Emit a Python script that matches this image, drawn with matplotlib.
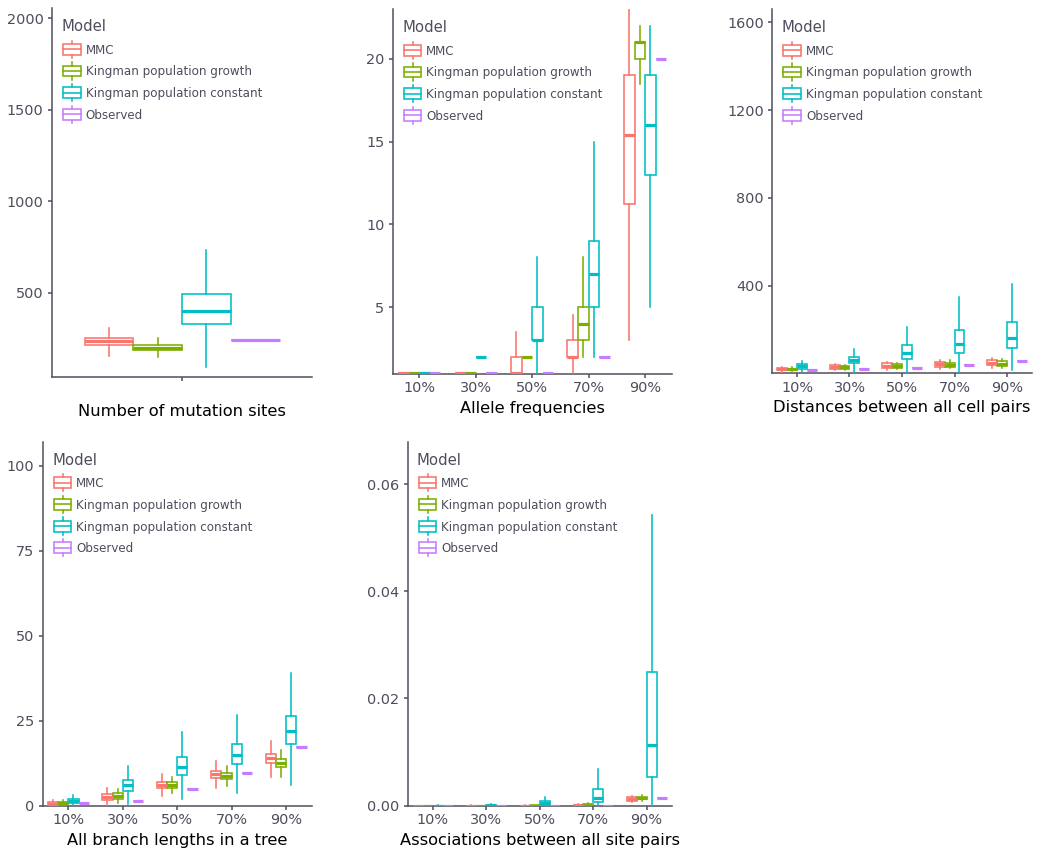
import matplotlib
matplotlib.use("Agg")
import matplotlib.pyplot as plt
from matplotlib.lines import Line2D
from matplotlib.patches import Rectangle

# ---------------------------------------------------------------------------
# Summary statistics per model: (lower whisker, Q1, median, Q3, upper whisker)
# ---------------------------------------------------------------------------
MODELS = ["MMC", "Kingman population growth", "Kingman population constant", "Observed"]
COLORS = ["#F8766D", "#7CAE00", "#00BFC4", "#C77CFF"]
QUANTILES = ["10%", "30%", "50%", "70%", "90%"]

# Number of mutation sites (single category)
SITES_MMC = [(155, 214, 235, 253, 309)]
SITES_GROWTH = [(148, 186, 200, 215, 250)]
SITES_CONST = [(93, 331, 402, 493, 734)]
SITES_OBS = [244]

# Allele frequencies
ALLELE_MMC = [(1, 1, 1, 1, 1), (1, 1, 1, 1, 1), (1, 1, 1, 2, 3.5),
              (1, 2, 2, 3, 4.5), (3, 11.2, 15.4, 19, 24)]
ALLELE_GROWTH = [(1, 1, 1, 1, 1), (1, 1, 1, 1, 1), (2, 2, 2, 2, 2),
                 (2, 3, 4, 5, 8), (18.5, 20, 21, 21, 22)]
ALLELE_CONST = [(1, 1, 1, 1, 1), (2, 2, 2, 2, 2), (1, 3, 3, 5, 8),
                (2, 5, 7, 9, 15), (5, 13, 16, 19, 22)]
ALLELE_OBS = [1, 1, 1, 2, 20]

# Distances between all cell pairs
DIST_MMC = [(8, 14, 19, 25, 30), (15, 22, 30, 37, 44), (16, 25, 36, 46, 52),
            (20, 31, 42, 54, 63), (26, 37, 47, 62, 72)]
DIST_GROWTH = [(10, 15, 18, 22, 27), (16, 21, 27, 33, 40), (20, 25, 34, 41, 48),
               (26, 31, 40, 49, 59), (26, 35, 45, 55, 66)]
DIST_CONST = [(8, 22, 33, 42, 57), (8, 46, 60, 74, 110), (8, 67, 95, 128, 213),
              (8, 93, 136, 197, 350), (14, 115, 163, 233, 406)]
DIST_OBS = [17, 22, 26, 37, 57]

# All branch lengths in a tree
BRANCH_MMC = [(0.1, 0.2, 0.6, 1.1, 1.6), (0, 1.8, 2.6, 3.4, 5.3), (2.9, 5.1, 6.1, 6.9, 9.3),
              (5.3, 8.2, 9.3, 10.2, 13.1), (8.5, 12.5, 13.9, 15.1, 19.1)]
BRANCH_GROWTH = [(0.1, 0.3, 0.7, 1.2, 1.7), (0.9, 2.1, 2.9, 3.6, 4.8), (3.6, 5.1, 6.1, 6.9, 8.3),
                 (5.9, 7.8, 8.8, 9.5, 11.6), (8.5, 11.3, 12.5, 13.6, 16.4)]
BRANCH_CONST = [(0.2, 0.8, 1.4, 2.0, 3.1), (0.5, 4.4, 6.0, 7.5, 11.8), (1.9, 9.1, 11.3, 14.2, 21.6),
                (3.7, 12.3, 14.9, 18.1, 26.7), (6.1, 18.1, 22.0, 26.5, 38.9)]
BRANCH_OBS = [0.8, 1.4, 4.8, 9.7, 17.2]

# Associations between all site pairs
ASSOC_MMC = [(0, 0, 0, 0, 0), (0, 0, 0, 0, 0.00005), (0, 0, 0, 0.00002, 0.0001),
             (0, 0.00005, 0.0001, 0.00015, 0.0003), (0.0007, 0.00095, 0.00125, 0.00155, 0.0019)]
ASSOC_GROWTH = [(0, 0, 0, 0, 0), (0, 0, 0, 0, 0), (0, 0, 0.00002, 0.00005, 0.0001),
                (0, 0.0001, 0.0002, 0.0003, 0.0005), (0.0009, 0.0012, 0.00145, 0.0017, 0.0020)]
ASSOC_CONST = [(0, 0, 0, 0.00003, 0.0001), (0, 0.00002, 0.00008, 0.0002, 0.0004),
               (0, 0.00013, 0.00045, 0.00088, 0.00157), (0, 0.00075, 0.0014, 0.0032, 0.0068),
               (0, 0.0054, 0.0114, 0.025, 0.0542)]
ASSOC_OBS = [0, 0, 0, 0, 0.00138]

# ---------------------------------------------------------------------------
# Styling
# ---------------------------------------------------------------------------
W, H = 1038, 852
LW = 1.15
AXIS_COLOR = "#50505e"
TEXT_COLOR = "#4d4d5c"
TICK_SIZE = 10.4
TITLE_SIZE = 11.7
DODGE = 0.75

plt.rcParams["font.family"] = ["DejaVu Sans"]
fig = plt.figure(figsize=(W / 100, H / 100), dpi=100)


def fx(x):
    return x / W


def fy(y):
    return 1 - y / H


def make_axes(rect):
    left, top, right, bottom = rect
    ax = fig.add_axes([fx(left), fy(bottom), (right - left) / W, (bottom - top) / H])
    for side in ("top", "right"):
        ax.spines[side].set_visible(False)
    for side in ("left", "bottom"):
        ax.spines[side].set_color(AXIS_COLOR)
        ax.spines[side].set_linewidth(1.1)
        ax.spines[side].set_zorder(1.5)
    ax.tick_params(axis="both", length=2.9, width=1.1, color=AXIS_COLOR,
                   labelcolor=TEXT_COLOR, labelsize=TICK_SIZE)
    ax.tick_params(axis="x", pad=2.3)
    ax.tick_params(axis="y", pad=3.1)
    return ax


def draw_group(ax, rows, offset, width, color):
    stats = [dict(whislo=r[0], q1=r[1], med=r[2], q3=r[3], whishi=r[4], fliers=[])
             for r in rows]
    positions = [i + 1 + offset for i in range(len(rows))]
    ax.bxp(stats, positions=positions, widths=width, showcaps=False, showfliers=False,
           patch_artist=True, manage_ticks=False, zorder=2,
           boxprops=dict(facecolor="white", edgecolor=color, linewidth=LW),
           whiskerprops=dict(color=color, linewidth=LW),
           medianprops=dict(color=color, linewidth=2 * LW, solid_capstyle="butt"))


def draw_panel(ax, series, observed):
    groups = series + [[(v, v, v, v, v) for v in observed]]
    slot = DODGE / len(groups)
    for k, (rows, color) in enumerate(zip(groups, COLORS)):
        off = -DODGE / 2 + slot * (k + 0.5)
        draw_group(ax, rows, off, slot, color)


def add_legend(rect):
    left, top = rect[0], rect[1]
    fig.text(fx(left + 9.3), fy(top + 22.9), "Model", fontsize=10.7,
             color=TEXT_COLOR, va="baseline", ha="left")
    key = 21.7
    for i, (name, col) in enumerate(zip(MODELS, COLORS)):
        cy = top + 41 + i * key
        kx = left + 9
        fig.add_artist(Rectangle((fx(kx + 0.1 * key), fy(cy + 0.25 * key)),
                                 0.8 * key / W, 0.5 * key / H, transform=fig.transFigure,
                                 facecolor="white", edgecolor=col, lw=LW))
        fig.add_artist(Line2D([fx(kx + 0.1 * key), fx(kx + 0.9 * key)], [fy(cy), fy(cy)],
                              transform=fig.transFigure, color=col, lw=LW))
        fig.add_artist(Line2D([fx(kx + key / 2)] * 2, [fy(cy - 0.4 * key), fy(cy - 0.25 * key)],
                              transform=fig.transFigure, color=col, lw=LW))
        fig.add_artist(Line2D([fx(kx + key / 2)] * 2, [fy(cy + 0.25 * key), fy(cy + 0.4 * key)],
                              transform=fig.transFigure, color=col, lw=LW))
        fig.text(fx(left + 33.6), fy(cy + 4.4), name, fontsize=8.6,
                 color=TEXT_COLOR, va="baseline", ha="left")


def set_xlabel(ax, rect, text):
    height = rect[3] - rect[1]
    ax.set_xlabel(text, fontsize=TITLE_SIZE, color="black")
    ax.xaxis.set_label_coords(0.5, -27.0 / height)


panels = [
    dict(rect=(52, 8.3, 312, 376.7), series=[SITES_MMC, SITES_GROWTH, SITES_CONST], obs=SITES_OBS,
         ylim=(41, 2055), yticks=[500, 1000, 1500, 2000], ylabels=None,
         xlabel="Number of mutation sites", xlim=(0.5, 1.5), xticklabels=[""]),
    dict(rect=(392.7, 9.3, 671.7, 374), series=[ALLELE_MMC, ALLELE_GROWTH, ALLELE_CONST], obs=ALLELE_OBS,
         ylim=(0.95, 23), yticks=[5, 10, 15, 20], ylabels=None,
         xlabel="Allele frequencies", xlim=(0.53, 5.47), xticklabels=QUANTILES),
    dict(rect=(772.3, 9.3, 1031.7, 373.3), series=[DIST_MMC, DIST_GROWTH, DIST_CONST], obs=DIST_OBS,
         ylim=(0.5, 1659), yticks=[400, 800, 1200, 1600], ylabels=None,
         xlabel="Distances between all cell pairs", xlim=(0.53, 5.47), xticklabels=QUANTILES),
    dict(rect=(42.7, 441.7, 311.7, 805.7), series=[BRANCH_MMC, BRANCH_GROWTH, BRANCH_CONST], obs=BRANCH_OBS,
         ylim=(0, 107), yticks=[0, 25, 50, 75, 100], ylabels=None,
         xlabel="All branch lengths in a tree", xlim=(0.53, 5.47), xticklabels=QUANTILES),
    dict(rect=(407.7, 441.7, 671.7, 805.7), series=[ASSOC_MMC, ASSOC_GROWTH, ASSOC_CONST], obs=ASSOC_OBS,
         ylim=(0, 0.0679), yticks=[0, 0.02, 0.04, 0.06], ylabels=["0.00", "0.02", "0.04", "0.06"],
         xlabel="Associations between all site pairs", xlim=(0.53, 5.47), xticklabels=QUANTILES),
]

for p in panels:
    ax = make_axes(p["rect"])
    draw_panel(ax, p["series"], p["obs"])
    ax.set_xlim(*p["xlim"])
    ax.set_ylim(*p["ylim"])
    ax.set_xticks(range(1, len(p["xticklabels"]) + 1))
    ax.set_xticklabels(p["xticklabels"])
    ax.set_yticks(p["yticks"])
    if p["ylabels"]:
        ax.set_yticklabels(p["ylabels"])
    set_xlabel(ax, p["rect"], p["xlabel"])
    add_legend(p["rect"])

fig.savefig("out.png", dpi=100)
